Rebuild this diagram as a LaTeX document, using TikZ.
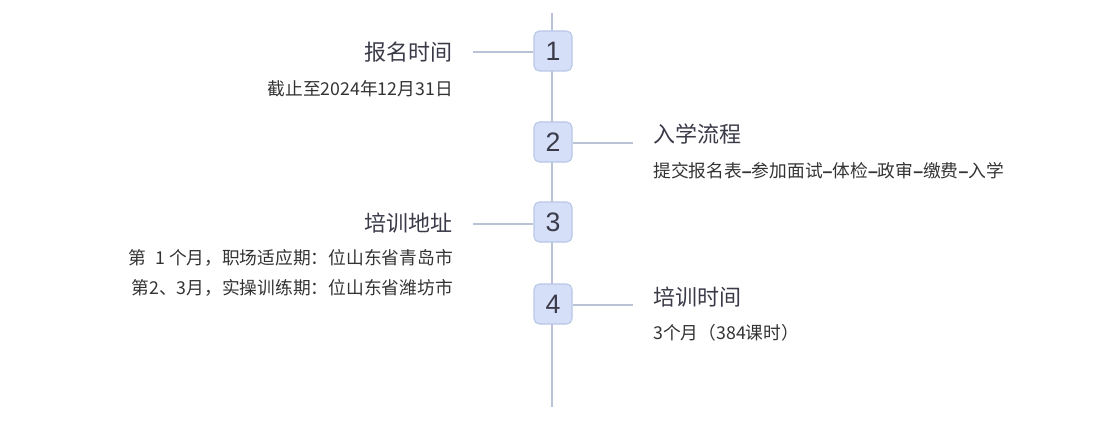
\documentclass[tikz,border=0pt]{standalone}
\usepackage{fontspec}
\setmainfont{Liberation Sans}
\newfontfamily\cjk{Noto Sans CJK SC}
\usepackage{tikz}
\usetikzlibrary{positioning,calc}
\definecolor{stepfill}{RGB}{213,223,248}
\definecolor{stepedge}{RGB}{184,198,230}
\definecolor{linegray}{RGB}{186,194,214}
\definecolor{titletext}{RGB}{58,58,72}
\definecolor{detailtext}{RGB}{51,51,51}
\newcommand{\sepdash}{{\rmfamily\bfseries –}}

\tikzset{
    stepbox/.style={draw=stepedge, fill=stepfill, rounded corners=4pt, line width=0.8pt,
        minimum width=28.5pt, minimum height=30pt, inner sep=0pt,
        font=\fontsize{20}{20}\selectfont, text=titletext},
    tline/.style={draw=linegray, line width=1pt},
    titlelbl/.style={font=\cjk\fontsize{16.5}{17}\selectfont, text=titletext, inner sep=0pt},
    detaillbl/.style={font=\cjk\fontsize{13.3}{14}\selectfont, text=detailtext, inner sep=0pt}
}

\begin{document}
\begin{tikzpicture}[x=0.75pt, y=-0.75pt]
    \useasboundingbox (0,0) rectangle (1105,424);
    % timeline
    \coordinate (top) at (552,13);
    \coordinate (bottom) at (552,407);
    \draw[tline] (top) -- (bottom);

    % steps
    \node[stepbox] (s1) at (553,51) {1};
    \node[stepbox] (s2) at (553,142) {2};
    \node[stepbox] (s3) at (553,222) {3};
    \node[stepbox] (s4) at (553,304) {4};

    % left side
    \coordinate (c1) at (473,52);
    \draw[tline] (c1) -- (s1.west |- c1);
    \node[titlelbl, anchor=east] (t1) at (453,52) {报名时间};
    \node[detaillbl, anchor=east] (d1) at (453,89) {截止至2024年12月31日};

    \coordinate (c3) at (473,224);
    \draw[tline] (c3) -- (s3.west |- c3);
    \node[titlelbl, anchor=east] (t3) at (453,223) {培训地址};
    \node[detaillbl, anchor=east] (d3a) at (453,258) {第\enspace1 个月，职场适应期：位山东省青岛市};
    \node[detaillbl, anchor=east] (d3b) at (453,288) {第2、3月，实操训练期：位山东省潍坊市};

    % right side
    \coordinate (c2) at (633,143);
    \draw[tline] (s2.east |- c2) -- (c2);
    \node[titlelbl, anchor=west] (t2) at (653,134) {入学流程};
    \node[detaillbl, anchor=west] (d2) at (653,171) {提交报名表\sepdash 参加面试\sepdash 体检\sepdash 政审\sepdash 缴费\sepdash 入学};

    \coordinate (c4) at (633,305);
    \draw[tline] (s4.east |- c4) -- (c4);
    \node[titlelbl, anchor=west] (t4) at (653,297) {培训时间};
    \node[detaillbl, anchor=west] (d4) at (653,333) {3个月（384课时）};
\end{tikzpicture}
\end{document}
